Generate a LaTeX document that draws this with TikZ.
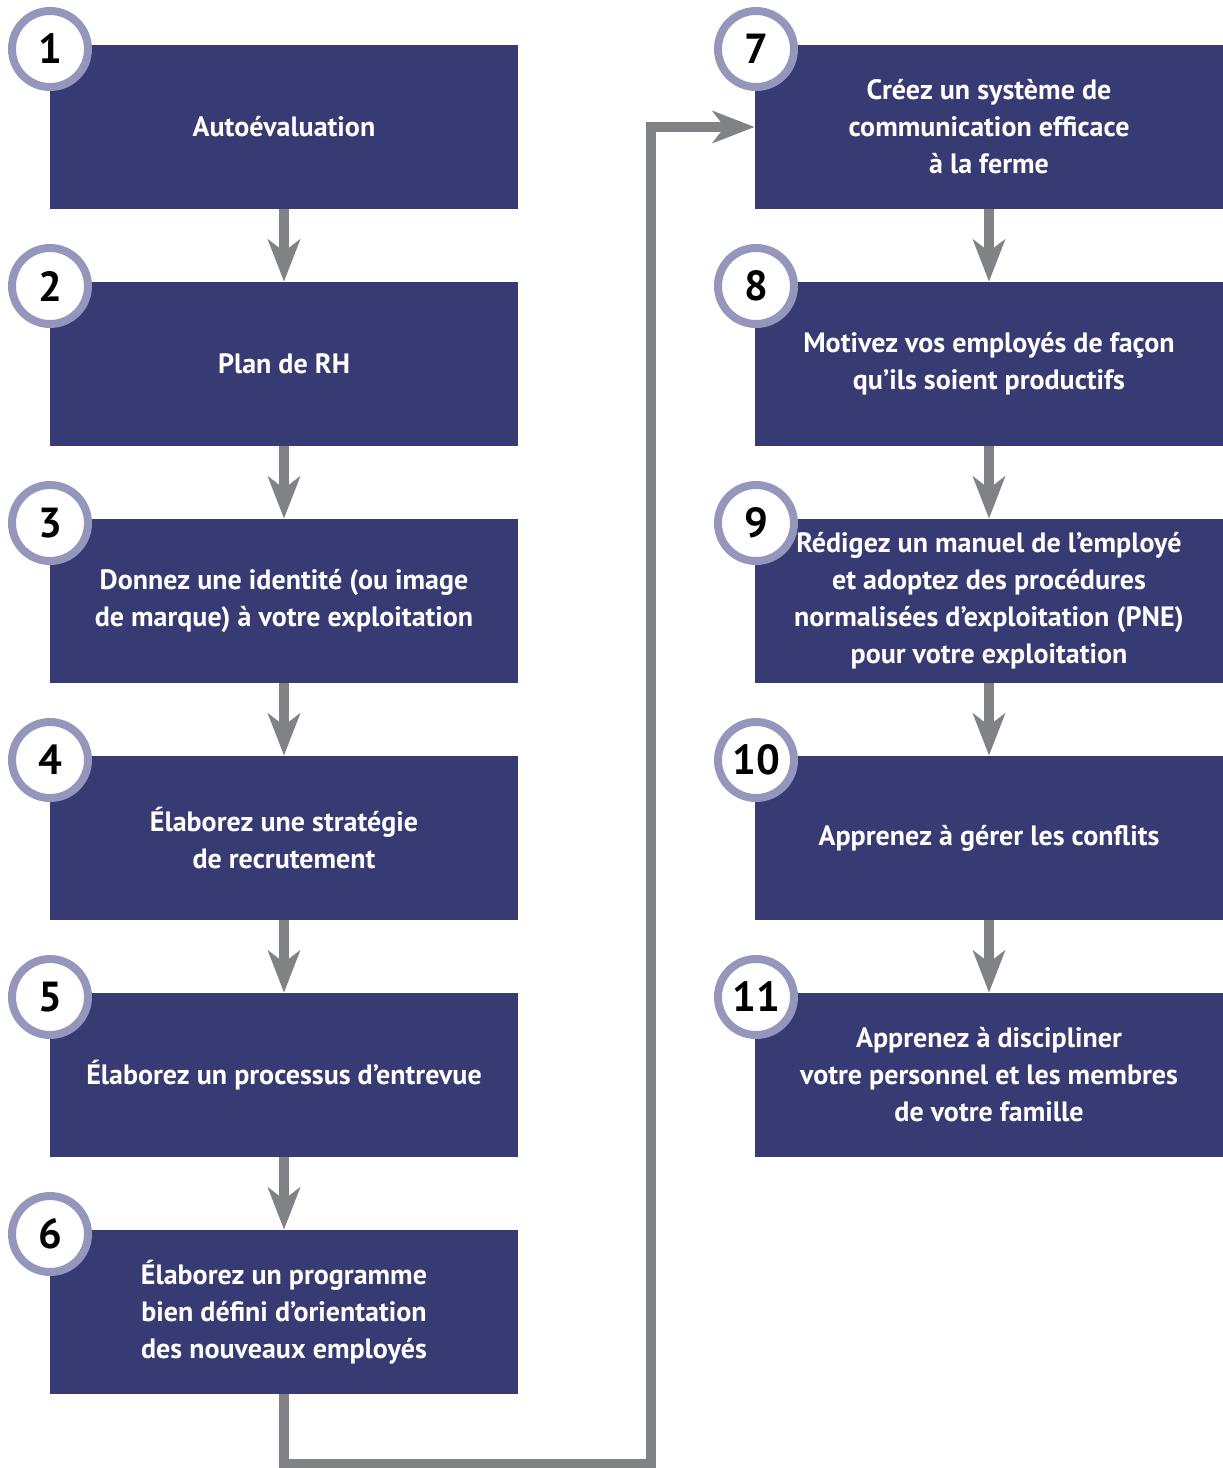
\documentclass[tikz,border=0pt]{standalone}
\usepackage{fontspec}
\setmainfont{PT Sans}
\usetikzlibrary{arrows.meta,positioning}
\definecolor{stepblue}{HTML}{383B73}
\definecolor{ringgray}{HTML}{9497BB}
\definecolor{arrgray}{HTML}{818285}
\tikzset{flow/.style={draw=arrgray, line width=5pt, -{Stealth[length=21pt,width=16pt,inset=6pt]}},
  stepbox/.style={fill=stepblue, text=white, minimum width=234pt, minimum height=82pt, inner sep=0pt, align=center, font=\bfseries\fontsize{14}{18.5}\selectfont},
  num/.style={circle, draw=ringgray, line width=4pt, fill=white, minimum size=38pt, inner sep=0pt, font=\bfseries\fontsize{21}{21}\selectfont}}

\begin{document}
\begin{tikzpicture}[x=0.5pt,y=-0.5pt]
  \useasboundingbox (0,0) rectangle (1222,1468);
  % left column
  \foreach \i/\txt in {1/{Autoévaluation},
      2/{Plan de RH},
      3/{Donnez une identité (ou image\\de marque) à votre exploitation},
      4/{Élaborez une stratégie\\de recrutement},
      5/{Élaborez un processus d’entrevue},
      6/{Élaborez un programme\\bien défini d’orientation\\des nouveaux employés}}{
    \node[stepbox] (box\i) at (284,{127+237*(\i-1)}) {\txt};
    \node[num] (n\i) at (50,{49+237*(\i-1)}) {\i};}
  % right column
  \foreach \i/\txt in {7/{Créez un système de\\communication efficace\\à la ferme},
      8/{Motivez vos employés de façon\\qu’ils soient productifs},
      9/{Rédigez un manuel de l’employé\\et adoptez des procédures\\normalisées d’exploitation (PNE)\\pour votre exploitation},
      10/{Apprenez à gérer les conflits},
      11/{Apprenez à discipliner\\votre personnel et les membres\\de votre famille}}{
    \node[stepbox] (box\i) at (989,{127+237*(\i-7)}) {\txt};
    \node[num] (n\i) at (756,{49+237*(\i-7)}) {\i};}
  \foreach \a/\b in {1/2,2/3,3/4,4/5,5/6,7/8,8/9,9/10,10/11}
    \draw[flow] (box\a) -- (box\b);
  \coordinate (bend) at (651,1464);
  \draw[flow] (box6) |- (bend) |- (box7);
\end{tikzpicture}
\end{document}
